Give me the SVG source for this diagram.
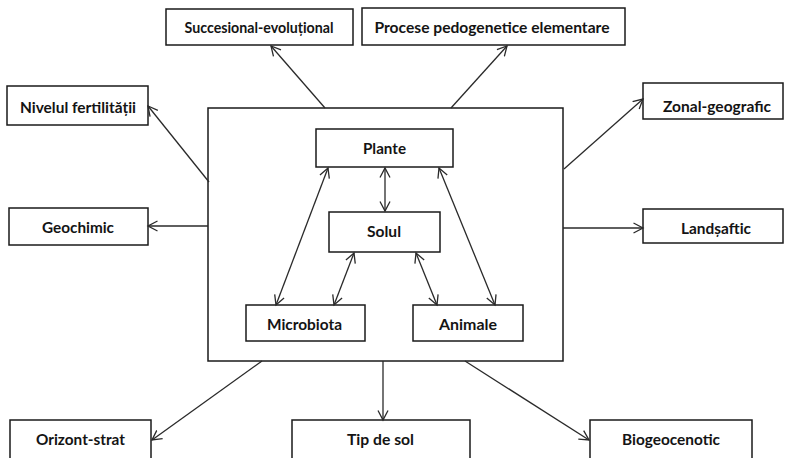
<svg xmlns="http://www.w3.org/2000/svg" width="788" height="458" viewBox="0 0 788 458">
<defs>
<style>
.box{fill:#fff;stroke:#1a1a1a;stroke-width:1.5}
.t{font-family:Lato,"Liberation Sans",sans-serif;font-weight:bold;font-size:16px;fill:#141414;text-anchor:middle}
.c{stroke:#2a2a2a;stroke-width:1.3;fill:none;marker-end:url(#ah)}
.d{marker-start:url(#ah)}
</style>
<marker id="ah" markerUnits="userSpaceOnUse" markerWidth="12" markerHeight="12" refX="10" refY="5" orient="auto-start-reverse" viewBox="0 0 12 10">
<path d="M0.5,0 L10,5 L0.5,10" fill="none" stroke="#2a2a2a" stroke-width="1.3"/>
</marker>
</defs>
<rect width="788" height="458" fill="#fff"/>
<g id="main"><rect class="box" x="208" y="108" width="355" height="253"/></g>
<g id="succesional"><rect class="box" x="166" y="9" width="187" height="36"/><text class="t" x="259" y="33" textLength="149" lengthAdjust="spacingAndGlyphs">Succesional-evoluțional</text></g>
<g id="procese"><rect class="box" x="362" y="8" width="263" height="37"/><text class="t" x="492" y="33" textLength="235" lengthAdjust="spacingAndGlyphs">Procese pedogenetice elementare</text></g>
<g id="nivelul"><rect class="box" x="7" y="86" width="141" height="39"/><text class="t" x="78" y="113" textLength="116" lengthAdjust="spacingAndGlyphs">Nivelul fertilității</text></g>
<g id="zonal"><rect class="box" x="643" y="83" width="140" height="36"/><text class="t" x="717" y="112" textLength="108" lengthAdjust="spacingAndGlyphs">Zonal-geografic</text></g>
<g id="geochimic"><rect class="box" x="9" y="208" width="139" height="37"/><text class="t" x="78" y="233" textLength="72" lengthAdjust="spacingAndGlyphs">Geochimic</text></g>
<g id="landsaftic"><rect class="box" x="643" y="209" width="140" height="34"/><text class="t" x="716" y="234" textLength="70" lengthAdjust="spacingAndGlyphs">Landșaftic</text></g>
<g id="plante"><rect class="box" x="316" y="129" width="137" height="38"/><text class="t" x="384.5" y="154" textLength="43" lengthAdjust="spacingAndGlyphs">Plante</text></g>
<g id="solul"><rect class="box" x="329" y="212" width="111" height="40"/><text class="t" x="384" y="237" textLength="34" lengthAdjust="spacingAndGlyphs">Solul</text></g>
<g id="microbiota"><rect class="box" x="246" y="305" width="119" height="36"/><text class="t" x="304.5" y="330" textLength="75" lengthAdjust="spacingAndGlyphs">Microbiota</text></g>
<g id="animale"><rect class="box" x="413" y="305" width="110" height="36"/><text class="t" x="468" y="330" textLength="58" lengthAdjust="spacingAndGlyphs">Animale</text></g>
<g id="orizont"><rect class="box" x="10" y="420" width="141" height="50"/><text class="t" x="80.5" y="445" textLength="89" lengthAdjust="spacingAndGlyphs">Orizont-strat</text></g>
<g id="tipdesol"><rect class="box" x="292" y="420" width="178" height="50"/><text class="t" x="380.5" y="445" textLength="67" lengthAdjust="spacingAndGlyphs">Tip de sol</text></g>
<g id="biogeocenotic"><rect class="box" x="590" y="420" width="162" height="50"/><text class="t" x="671" y="445" textLength="98" lengthAdjust="spacingAndGlyphs">Biogeocenotic</text></g>
<g id="connectors">
<line class="c" x1="325" y1="108" x2="271" y2="46"/>
<line class="c" x1="451" y1="108" x2="507" y2="46"/>
<line class="c" x1="209" y1="182" x2="148" y2="106"/>
<line class="c" x1="564" y1="169" x2="643" y2="99"/>
<line class="c" x1="208" y1="226" x2="148" y2="226"/>
<line class="c" x1="563" y1="228" x2="643" y2="228"/>
<line class="c" x1="262" y1="361" x2="152" y2="440"/>
<line class="c" x1="383" y1="361" x2="383" y2="420"/>
<line class="c" x1="465" y1="361" x2="589" y2="440"/>
<line class="c d" x1="385" y1="168" x2="385" y2="211"/>
<line class="c d" x1="328" y1="168" x2="276" y2="305"/>
<line class="c d" x1="354" y1="253" x2="334" y2="305"/>
<line class="c d" x1="416" y1="253" x2="437" y2="305"/>
<line class="c d" x1="439" y1="168" x2="495" y2="305"/>
</g>
</svg>
